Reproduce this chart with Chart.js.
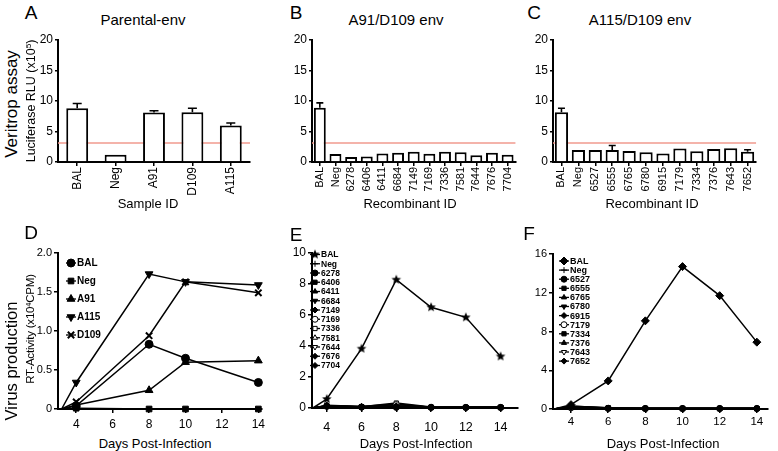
<!DOCTYPE html>
<html>
<head>
<meta charset="utf-8">
<script src="https://cdn.jsdelivr.net/npm/chart.js@4.4.1/dist/chart.umd.min.js"></script>
<style>
  body { margin: 0; background: #fff; width: 778px; height: 451px; position: relative; overflow: hidden;
         font-family: Arial, "Liberation Sans", Helvetica, sans-serif; color: #000; }
  .box { position: absolute; }
  .t { position: absolute; white-space: nowrap; line-height: 1; transform: translate(-50%, -50%); }
  .r { transform: translate(-50%, -50%) rotate(-90deg); }
  sup { font-size: 65%; vertical-align: 0.45em; line-height: 0; }
</style>
</head>
<body>
<div class="box" id="boxA"><canvas id="chartA"></canvas></div>
<div class="box" id="boxB"><canvas id="chartB"></canvas></div>
<div class="box" id="boxC"><canvas id="chartC"></canvas></div>
<div class="box" id="boxD"><canvas id="chartD"></canvas></div>
<div class="box" id="boxE"><canvas id="chartE"></canvas></div>
<div class="box" id="boxF"><canvas id="chartF"></canvas></div>

<div class="t" style="left:31px;top:12px;font-size:19px">A</div>
<div class="t" style="left:296px;top:12px;font-size:19px">B</div>
<div class="t" style="left:534px;top:12px;font-size:19px">C</div>
<div class="t" style="left:31px;top:232px;font-size:19px">D</div>
<div class="t" style="left:296px;top:234px;font-size:19px">E</div>
<div class="t" style="left:529px;top:233px;font-size:19px">F</div>

<div class="t" style="left:143px;top:19px;font-size:15px">Parental-env</div>
<div class="t" style="left:396px;top:19px;font-size:15px">A91/D109 env</div>
<div class="t" style="left:640px;top:19px;font-size:15px">A115/D109 env</div>

<div class="t r" style="left:11px;top:104px;font-size:17px">Veritrop assay</div>
<div class="t r" style="left:31px;top:101px;font-size:12.5px">Luciferase RLU (x10<sup>5</sup>)</div>
<div class="t r" style="left:11px;top:361px;font-size:16.5px">Virus production</div>
<div class="t r" style="left:31px;top:329px;font-size:11.5px;letter-spacing:-0.2px">RT-Activity (x10<sup>4</sup>CPM)</div>

<div class="t" style="left:148px;top:203px;font-size:13px">Sample ID</div>
<div class="t" style="left:410px;top:203px;font-size:13px">Recombinant ID</div>
<div class="t" style="left:652px;top:203px;font-size:13px">Recombinant ID</div>

<div class="t" style="left:155px;top:443px;font-size:13px">Days Post-Infection</div>
<div class="t" style="left:416px;top:443px;font-size:13px">Days Post-Infection</div>
<div class="t" style="left:663px;top:443px;font-size:13px">Days Post-Infection</div>

<script>
// ---- Veritrop assay (luciferase RLU x10^5) ----
const cutoffRLU = 3.1;

const parentalIds = ["BAL", "Neg", "A91", "D109", "A115"];
const parentalRLU = [8.8, 1.2, 8.1, 8.15, 6.0];
const parentalErrTop = [9.6, 1.3, 8.4, 8.8, 6.4];

const a91Ids = ["BAL", "Neg", "6278", "6406", "6411", "6684", "7149", "7169", "7336", "7581", "7644", "7676", "7704"];
const a91RLU = [8.9, 1.3, 0.8, 0.9, 1.4, 1.5, 1.7, 1.35, 1.7, 1.6, 1.1, 1.5, 1.2];
const a91ErrTop = [9.7, 1.4, 0.9, 0.95, 1.6, 1.6, 1.75, 1.45, 1.75, 1.65, 1.15, 1.65, 1.3];

const a115Ids = ["BAL", "Neg", "6527", "6555", "6765", "6780", "6915", "7179", "7334", "7376", "7643", "7652"];
const a115RLU = [8.15, 1.95, 1.95, 1.95, 1.8, 1.6, 1.4, 2.2, 1.75, 2.15, 2.25, 1.7];
const a115ErrTop = [8.8, 2.05, 2.0, 2.7, 1.9, 1.7, 1.5, 2.3, 1.85, 2.2, 2.35, 2.0];

// ---- Virus production (RT activity x10^4 CPM) ----
const dayTicks = [4, 6, 8, 10, 12, 14];

const daysD = [3.2, 4, 8, 10, 14];
const rtBAL_D = [0, 0.04, 0.83, 0.65, 0.34];
const rtNeg_D = [0, 0.01, 0, 0, 0];
const rtA91_D = [0, 0.05, 0.24, 0.60, 0.62];
const rtA115_D = [0, 0.34, 1.73, 1.63, 1.59];
const rtD109_D = [0, 0.09, 0.94, 1.63, 1.49];

const daysE = [3.2, 4, 6, 8, 10, 12, 14];
const rtBAL_E = [0, 0.58, 3.83, 8.28, 6.5, 5.85, 3.33];
const lowIdsE = ["Neg", "6278", "6406", "6411", "6684", "7149", "7169", "7336", "7581", "7644", "7676", "7704"];
const lowRtE = [
  [0, 0.05, 0.03, 0.03, 0.02, 0.02, 0.02],
  [0, 0.15, 0.06, 0.04, 0.03, 0.03, 0.03],
  [0, 0.12, 0.08, 0.10, 0.05, 0.04, 0.04],
  [0, 0.18, 0.10, 0.15, 0.06, 0.05, 0.05],
  [0, 0.10, 0.05, 0.08, 0.04, 0.05, 0.05],
  [0, 0.14, 0.07, 0.12, 0.05, 0.04, 0.04],
  [0, 0.10, 0.06, 0.22, 0.05, 0.04, 0.04],
  [0, 0.12, 0.08, 0.32, 0.06, 0.05, 0.05],
  [0, 0.15, 0.10, 0.25, 0.05, 0.05, 0.05],
  [0, 0.08, 0.05, 0.06, 0.04, 0.05, 0.05],
  [0, 0.13, 0.06, 0.10, 0.05, 0.04, 0.04],
  [0, 0.11, 0.05, 0.07, 0.04, 0.04, 0.04]
];

const daysF = [3.1, 4, 6, 8, 10, 12, 14];
const rtBAL_F = [0, 0.45, 2.9, 9.1, 14.7, 11.7, 6.9];
const lowIdsF = ["Neg", "6527", "6555", "6765", "6780", "6915", "7179", "7334", "7376", "7643", "7652"];
const lowRtF = [
  [0, 0.30, 0.10, 0.05, 0.05, 0.05, 0.05],
  [0, 0.25, 0.08, 0.05, 0.05, 0.05, 0.05],
  [0, 0.20, 0.12, 0.06, 0.05, 0.05, 0.05],
  [0, 0.18, 0.08, 0.05, 0.05, 0.05, 0.05],
  [0, 0.15, 0.06, 0.05, 0.05, 0.05, 0.05],
  [0, 0.22, 0.10, 0.06, 0.05, 0.05, 0.05],
  [0, 0.12, 0.05, 0.05, 0.05, 0.05, 0.05],
  [0, 0.28, 0.12, 0.05, 0.05, 0.05, 0.05],
  [0, 0.16, 0.06, 0.05, 0.05, 0.05, 0.05],
  [0, 0.10, 0.05, 0.05, 0.05, 0.05, 0.05],
  [0, 0.20, 0.08, 0.05, 0.05, 0.05, 0.05]
];

Chart.defaults.font.family = 'Arial, "Liberation Sans", Helvetica, sans-serif';
Chart.defaults.color = '#000';
Chart.defaults.animation = false;
Chart.defaults.plugins.legend.display = false;
Chart.defaults.plugins.tooltip.enabled = false;

const RED = '#f09a8e';
const axisGrid = { drawOnChartArea: false, drawTicks: true, tickLength: 4, color: '#000', lineWidth: 1.5 };
const axisBorder = { display: true, color: '#000', width: 2 };

// place the canvas box so that the plot area lands on the given pixel edges
function frame(id, ax) {
  const left = ax.l - ax.yW, top = ax.t - ax.pt;
  const box = document.getElementById(id);
  box.style.left = left + 'px';
  box.style.top = top + 'px';
  box.style.width = (ax.r + ax.pr - left) + 'px';
  box.style.height = (ax.b + ax.xH - top) + 'px';
  return { left, top };
}

function errorBars(tops, cap) {
  return {
    id: 'errorBars',
    afterDatasetsDraw(chart) {
      const ctx = chart.ctx, y = chart.scales.y;
      ctx.save();
      ctx.strokeStyle = '#000';
      ctx.lineWidth = 1.6;
      chart.getDatasetMeta(0).data.forEach((bar, i) => {
        const yy = y.getPixelForValue(tops[i]);
        if (bar.y - yy < 1.5) return;
        ctx.beginPath();
        ctx.moveTo(bar.x, bar.y);
        ctx.lineTo(bar.x, yy);
        ctx.moveTo(bar.x - cap, yy);
        ctx.lineTo(bar.x + cap, yy);
        ctx.stroke();
      });
      ctx.restore();
    }
  };
}

function cutoffLine(value) {
  return {
    id: 'cutoff',
    beforeDatasetsDraw(chart) {
      const { ctx, chartArea: a } = chart;
      const yy = chart.scales.y.getPixelForValue(value);
      ctx.save();
      ctx.strokeStyle = RED;
      ctx.lineWidth = 1.5;
      ctx.beginPath();
      ctx.moveTo(a.left, yy);
      ctx.lineTo(a.right, yy);
      ctx.stroke();
      ctx.restore();
    }
  };
}

// legend drawn inside the plot, top-left, like the original figure
function sideLegend(pos, x, y0, dy, font) {
  return {
    id: 'sideLegend',
    afterDatasetsDraw(chart) {
      const ctx = chart.ctx;
      const cx = x - pos.left;
      chart.data.datasets.forEach((ds, i) => {
        const cy = y0 + i * dy - pos.top;
        ctx.save();
        ctx.strokeStyle = '#000';
        ctx.lineWidth = 1.3;
        ctx.beginPath();
        ctx.moveTo(cx - 5, cy);
        ctx.lineTo(cx + 5, cy);
        ctx.stroke();
        ctx.fillStyle = ds.pointBackgroundColor;
        ctx.lineWidth = ds.pointBorderWidth;
        if (Chart.helpers && Chart.helpers.drawPoint) {
          Chart.helpers.drawPoint(ctx, {
            pointStyle: ds.pointStyle, rotation: ds.pointRotation,
            radius: ds.legendRadius, borderWidth: ds.pointBorderWidth
          }, cx, cy);
        }
        ctx.fillStyle = '#000';
        ctx.font = font;
        ctx.textBaseline = 'middle';
        ctx.textAlign = 'left';
        ctx.fillText(ds.label, cx + 6, cy + 0.5);
        ctx.restore();
      });
    }
  };
}

function starImage(r) {
  const c = document.createElement('canvas');
  c.width = c.height = Math.ceil(2 * r + 2);
  const g = c.getContext('2d');
  g.fillStyle = '#000';
  g.beginPath();
  for (let i = 0; i < 10; i++) {
    const a = -Math.PI / 2 + i * Math.PI / 5;
    const rr = i % 2 ? r * 0.45 : r;
    g.lineTo(c.width / 2 + rr * Math.cos(a), c.height / 2 + rr * Math.sin(a));
  }
  g.closePath();
  g.fill();
  return c;
}

function barChart(canvasId, boxId, ax, labels, values, errTops, opt) {
  frame(boxId, ax);
  return new Chart(document.getElementById(canvasId), {
    type: 'bar',
    data: {
      labels: labels,
      datasets: [{
        data: values,
        backgroundColor: '#fff',
        borderColor: '#000',
        borderWidth: 2,
        barPercentage: opt.barPct,
        categoryPercentage: 1
      }]
    },
    options: {
      responsive: true,
      maintainAspectRatio: false,
      layout: { padding: { top: ax.pt, right: ax.pr, left: 0, bottom: 0 } },
      scales: {
        x: {
          grid: Object.assign({}, axisGrid, { offset: false }),
          border: axisBorder,
          ticks: { font: { size: opt.xFont }, minRotation: 90, maxRotation: 90, autoSkip: false, padding: 1 },
          afterFit: s => { s.height = ax.xH; }
        },
        y: {
          min: 0, max: 20,
          grid: Object.assign({}, axisGrid, { tickLength: 3 }),
          border: axisBorder,
          ticks: { stepSize: 5, font: { size: 12 }, padding: 2 },
          afterFit: s => { s.width = ax.yW; }
        }
      }
    },
    plugins: [cutoffLine(cutoffRLU), errorBars(errTops, opt.cap)]
  });
}

function lineSet(label, days, vals, style, o) {
  o = o || {};
  const r = o.r || 3;
  return {
    label: label,
    data: vals.map((v, i) => ({ x: days[i], y: v })),
    borderColor: '#000',
    borderWidth: o.bw || 1.5,
    pointStyle: style,
    pointRotation: o.rot || 0,
    pointRadius: vals.map((v, i) => (i === 0 ? 0 : r)),
    pointBackgroundColor: o.open ? '#fff' : '#000',
    pointBorderColor: '#000',
    pointBorderWidth: o.pbw || 1,
    legendRadius: o.lr || r,
    tension: 0,
    clip: false
  };
}

function lineChart(canvasId, boxId, ax, datasets, opt) {
  const pos = frame(boxId, ax);
  return new Chart(document.getElementById(canvasId), {
    type: 'line',
    data: { datasets: datasets },
    options: {
      responsive: true,
      maintainAspectRatio: false,
      layout: { padding: { top: ax.pt, right: ax.pr, left: 0, bottom: 0 } },
      scales: {
        x: {
          type: 'linear', min: opt.xMin, max: opt.xMax,
          afterBuildTicks: s => { s.ticks = dayTicks.map(v => ({ value: v })); },
          grid: axisGrid,
          border: axisBorder,
          ticks: { font: { size: opt.xFont }, padding: opt.xPad, maxRotation: 0 },
          afterFit: s => { s.height = ax.xH; }
        },
        y: {
          min: 0, max: opt.yMax,
          grid: axisGrid,
          border: axisBorder,
          ticks: { stepSize: opt.yStep, font: { size: opt.yFont }, padding: 2, callback: opt.yFmt },
          afterFit: s => { s.width = ax.yW; }
        }
      }
    },
    plugins: [sideLegend(pos, opt.lgX, opt.lgY, opt.lgDy, opt.lgFont)]
  });
}

// ---- bar panels A, B, C ----
barChart('chartA', 'boxA', { l: 58, r: 250, t: 40, b: 162, yW: 28, xH: 34, pt: 12, pr: 6 },
  parentalIds, parentalRLU, parentalErrTop, { barPct: 0.57, xFont: 12, cap: 4.5 });
barChart('chartB', 'boxB', { l: 312, r: 517, t: 40, b: 162, yW: 27, xH: 34, pt: 12, pr: 5 },
  a91Ids, a91RLU, a91ErrTop, { barPct: 0.76, xFont: 11, cap: 3.5 });
barChart('chartC', 'boxC', { l: 553, r: 757, t: 40, b: 162, yW: 27, xH: 34, pt: 12, pr: 5 },
  a115Ids, a115RLU, a115ErrTop, { barPct: 0.78, xFont: 11, cap: 3.5 });

// ---- line panel D ----
lineChart('chartD', 'boxD', { l: 58, r: 262, t: 253, b: 409, yW: 28, xH: 24, pt: 12, pr: 8 }, [
  lineSet('BAL', daysD, rtBAL_D, 'circle', { r: 4 }),
  lineSet('Neg', daysD, rtNeg_D, 'rect', { r: 4 }),
  lineSet('A91', daysD, rtA91_D, 'triangle', { r: 4.5 }),
  lineSet('A115', daysD, rtA115_D, 'triangle', { r: 4.5, rot: 180 }),
  lineSet('D109', daysD, rtD109_D, 'crossRot', { r: 4.5, pbw: 2 })
], {
  xMin: 3, xMax: 14.2, xFont: 12, xPad: 4, yMax: 2, yStep: 0.5, yFont: 11,
  yFmt: v => (v === 0 ? '0' : v.toFixed(1)),
  lgX: 71, lgY: 263, lgDy: 18, lgFont: 'bold 10px Arial, "Liberation Sans", sans-serif'
});

// ---- line panel E ----
const openE = { '7169': 1, '7336': 1, '7581': 1, '7644': 1 };
const styleE = ['cross', 'circle', 'rect', 'triangle', 'triangle', 'rectRot', 'circle', 'rect', 'triangle', 'triangle', 'rectRot', 'rectRot'];
const rotE = [0, 0, 0, 0, 180, 0, 0, 0, 0, 180, 0, 0];
const setsE = [lineSet('BAL', daysE, rtBAL_E, starImage(5), { r: 5, lr: 4 })];
lowIdsE.forEach((id, i) => {
  setsE.push(lineSet(id, daysE, lowRtE[i], styleE[i], { r: 3, rot: rotE[i], open: !!openE[id] }));
});
lineChart('chartE', 'boxE', { l: 312, r: 520, t: 253, b: 408, yW: 27, xH: 28, pt: 12, pr: 4 }, setsE, {
  xMin: 3.15, xMax: 15, xFont: 12.5, xPad: 8, yMax: 10, yStep: 2, yFont: 12,
  yFmt: v => String(v),
  lgX: 315, lgY: 254.5, lgDy: 9.25, lgFont: 'bold 8.5px Arial, "Liberation Sans", sans-serif'
});

// ---- line panel F ----
const openF = { '7179': 1, '7643': 1 };
const styleF = ['cross', 'circle', 'rect', 'triangle', 'triangle', 'rectRot', 'circle', 'rect', 'triangle', 'triangle', 'rectRot'];
const rotF = [0, 0, 0, 0, 180, 0, 0, 0, 0, 180, 0];
const setsF = [lineSet('BAL', daysF, rtBAL_F, 'rectRot', { r: 4 })];
lowIdsF.forEach((id, i) => {
  setsF.push(lineSet(id, daysF, lowRtF[i], styleF[i], { r: 3, rot: rotF[i], open: !!openF[id] }));
});
lineChart('chartF', 'boxF', { l: 553, r: 768, t: 254, b: 409, yW: 27, xH: 24, pt: 12, pr: 6 }, setsF, {
  xMin: 3.03, xMax: 14.6, xFont: 11.5, xPad: 2, yMax: 16, yStep: 4, yFont: 11,
  yFmt: v => String(v),
  lgX: 564, lgY: 261, lgDy: 9.1, lgFont: 'bold 9px Arial, "Liberation Sans", sans-serif'
});
</script>
</body>
</html>
